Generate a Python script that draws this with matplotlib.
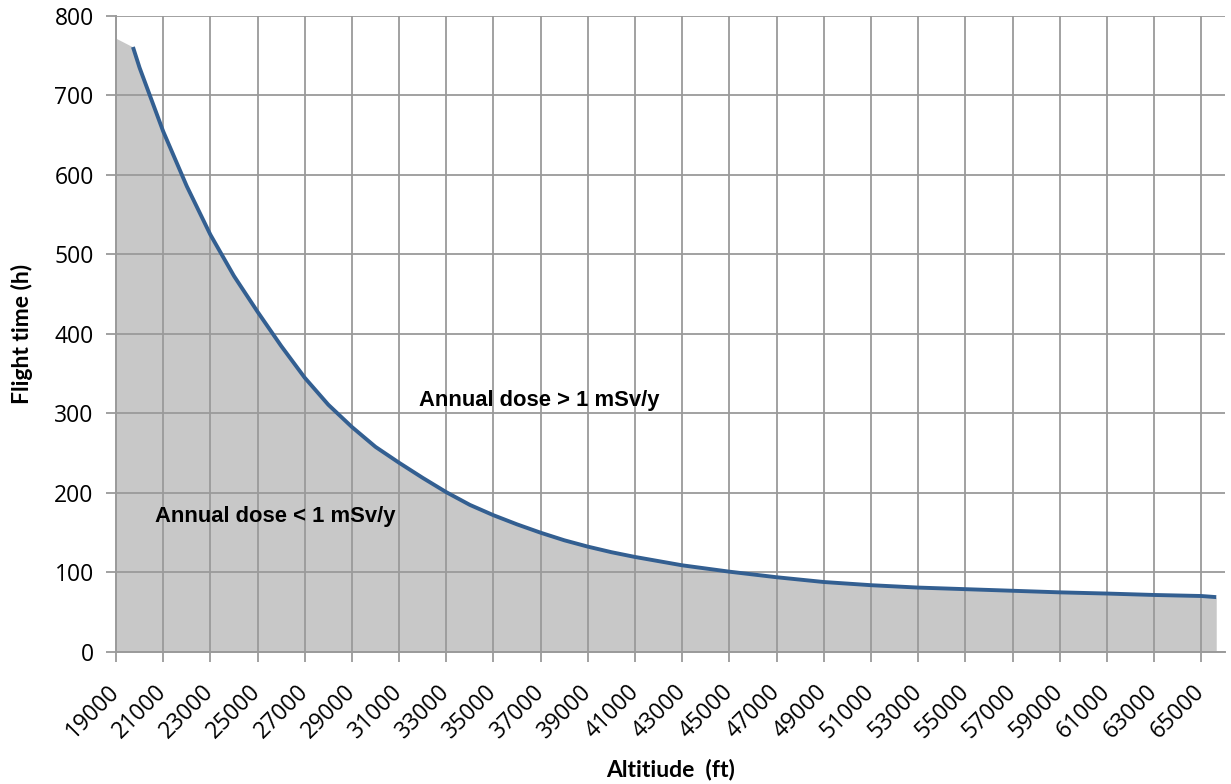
import matplotlib
matplotlib.use("Agg")
import matplotlib.pyplot as plt
import numpy as np

# altitude (ft) and permitted flight time (h)
altitude = [19000, 19720, 20000, 20500, 21000, 22000, 23000, 24000,
            25000, 26000, 27000, 28000, 29000, 30000, 31000, 32000,
            33000, 34000, 35000, 36000, 37000, 38000, 39000, 40000, 41000,
            43000, 45000, 47000, 49000, 51000, 53000, 55000, 57000, 59000,
            61000, 63000, 65000, 65630]
flight_time = [772, 761, 735, 695, 655, 586, 525, 473,
               428, 385, 345, 311, 283, 258, 238, 219,
               201, 185, 172, 160.5, 150, 140.5, 132.5, 125.5, 119.5,
               109, 101, 94, 88, 84, 81, 79, 77, 75,
               73.5, 71.7, 70.4, 69]
line_start = 1  # curve is drawn from the 2nd point, the fill from the 1st

xticks = list(range(19000, 66000, 2000))
yticks = list(range(0, 801, 100))

grid_col = "#9a9a9a"

fig = plt.figure(figsize=(12.31, 7.84), dpi=100)
ax = fig.add_axes([0.0942, 0.1684, 0.9009, 0.8112])

ax.fill_between(altitude, flight_time, 0, color="#c8c8c8", lw=0, zorder=1)
ax.plot(altitude[line_start:], flight_time[line_start:], color="#335f91",
        lw=2.8, zorder=3, solid_capstyle="butt")

ax.set_xlim(19000, 66000)
ax.set_ylim(0, 800)
ax.set_xticks(xticks)
ax.set_yticks(yticks)
ax.set_xticklabels([str(t) for t in xticks], rotation=45, ha="right",
                   va="center", rotation_mode="anchor", family="Open Sans",
                   fontsize=16.5)
ax.set_yticklabels([str(t) for t in yticks], family="Open Sans",
                   fontsize=16.5)

ax.grid(True, color=grid_col, lw=1.3, zorder=2)
ax.set_axisbelow(False)
for side in ["top", "right"]:
    ax.spines[side].set_visible(False)
for side in ["left", "bottom"]:
    ax.spines[side].set_color(grid_col)
    ax.spines[side].set_linewidth(1.4)
ax.tick_params(axis="both", color=grid_col, length=7, width=1.3)
ax.tick_params(axis="y", pad=9)
ax.tick_params(axis="x", pad=19)

ax.set_xlabel("Altitiude  (ft)", family="Lato", fontweight="bold",
              fontsize=16.5, va="center")
ax.set_ylabel("Flight time (h)", family="Lato", fontweight="bold",
              fontsize=16.5, va="center")
ax.xaxis.set_label_coords(0.5, -0.1855)
ax.yaxis.set_label_coords(-0.0848, 0.5)

ax.text(31850, 316, "Annual dose > 1 mSv/y", family="Liberation Sans",
        fontweight="bold", fontsize=15.8, ha="left", va="center", zorder=4)
ax.text(20660, 171, "Annual dose < 1 mSv/y", family="Liberation Sans",
        fontweight="bold", fontsize=15.8, ha="left", va="center", zorder=4)

fig.savefig("out.png", dpi=100)
